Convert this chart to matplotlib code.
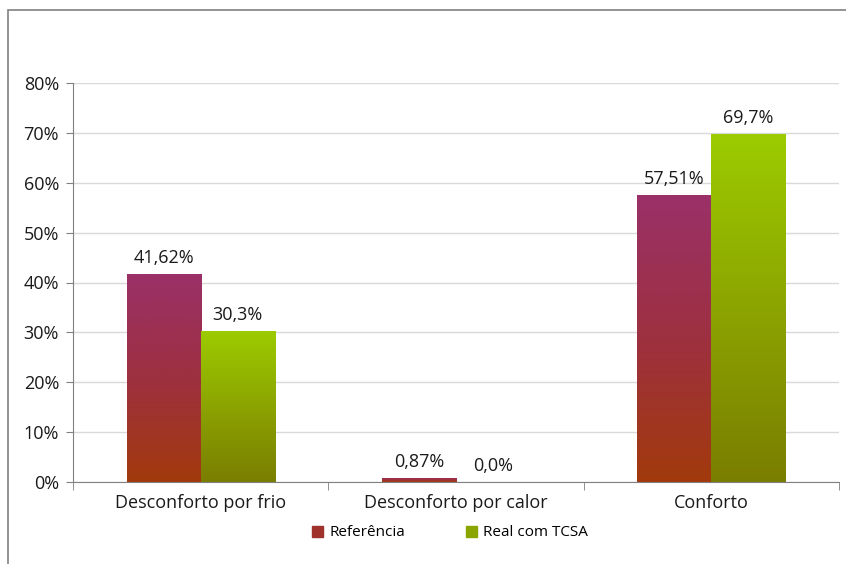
import numpy as np
import matplotlib

matplotlib.use("Agg")
import matplotlib.pyplot as plt
from matplotlib.colors import LinearSegmentedColormap
from matplotlib.patches import Rectangle

plt.rcParams["font.family"] = ["Open Sans", "DejaVu Sans"]

categorias = ["Desconforto por frio", "Desconforto por calor", "Conforto"]
referencia = [41.62, 0.87, 57.51]
real_tcsa = [30.3, 0.0, 69.7]
rotulos_ref = ["41,62%", "0,87%", "57,51%"]
rotulos_real = ["30,3%", "0,0%", "69,7%"]
series = ["Referência", "Real com TCSA"]
y_ticks = [0, 10, 20, 30, 40, 50, 60, 70, 80]

# gradientes (base -> topo)
cmap_ref = LinearSegmentedColormap.from_list("ref", ["#A23A0C", "#9E3040", "#9A3068"])
cmap_real = LinearSegmentedColormap.from_list("real", ["#7A7E00", "#8CA400", "#9CCC00"])
TXT = "#1a1a1a"

fig = plt.figure(figsize=(8.46, 5.64), dpi=100)
ax = fig.add_axes([73 / 846, 1 - 482 / 564, (839 - 73) / 846, (482 - 83) / 564])

# moldura externa
fig.add_artist(Rectangle((8 / 846, -0.1), 1.2, 1 - 10 / 564 + 0.1, transform=fig.transFigure,
                         fill=False, edgecolor="#808080", linewidth=1.2))

x = np.arange(len(categorias))
w = 0.29


def gradient_bars(xs, vals, cmap):
    bars = ax.bar(xs, vals, width=w, color="none", edgecolor="none", zorder=2)
    grad = np.linspace(0, 1, 256).reshape(-1, 1)
    for b in bars:
        h = b.get_height()
        if h <= 0:
            continue
        x0 = b.get_x()
        im = ax.imshow(grad, cmap=cmap, aspect="auto", origin="lower",
                       extent=[x0, x0 + b.get_width(), 0, h], zorder=2,
                       vmin=0, vmax=1)
        im.set_clip_path(b)
    return bars


bars_ref = gradient_bars(x - w / 2, referencia, cmap_ref)
bars_real = gradient_bars(x + w / 2, real_tcsa, cmap_real)

for bars, rotulos in [(bars_ref, rotulos_ref), (bars_real, rotulos_real)]:
    for b, t in zip(bars, rotulos):
        ax.annotate(t, (b.get_x() + b.get_width() / 2, b.get_height()), xytext=(0, 5),
                    textcoords="offset points", ha="center", va="bottom", fontsize=13, color=TXT)

ax.set_xlim(-0.5, len(categorias) - 0.5)
ax.set_ylim(0, 80)
ax.set_yticks(y_ticks)
ax.set_yticklabels([f"{v}%" for v in y_ticks], fontsize=13, color=TXT)
ax.yaxis.grid(True, color="#D9D9D9", linewidth=1)
ax.set_axisbelow(True)

ax.set_xticks(x)
ax.set_xticklabels(categorias, fontsize=13, color=TXT)
ax.tick_params(axis="x", length=0, pad=9)
ax.set_xticks(np.arange(len(categorias) + 1) - 0.5, minor=True)
ax.tick_params(axis="x", which="minor", length=6, color="#808080")
ax.tick_params(axis="y", length=5, color="#808080", pad=5)

for s in ["top", "right"]:
    ax.spines[s].set_visible(False)
for s in ["left", "bottom"]:
    ax.spines[s].set_color("#808080")

handles = [Rectangle((0, 0), 1, 1, color="#A0322C"), Rectangle((0, 0), 1, 1, color="#8AA400")]
fig.legend(handles, series, loc="center", bbox_to_anchor=(450 / 846, 1 - 533 / 564), ncol=2,
           frameon=False, fontsize=11, handlelength=0.7, handleheight=0.7, handletextpad=0.4,
           columnspacing=4.0)

fig.savefig("out.png", dpi=100)
